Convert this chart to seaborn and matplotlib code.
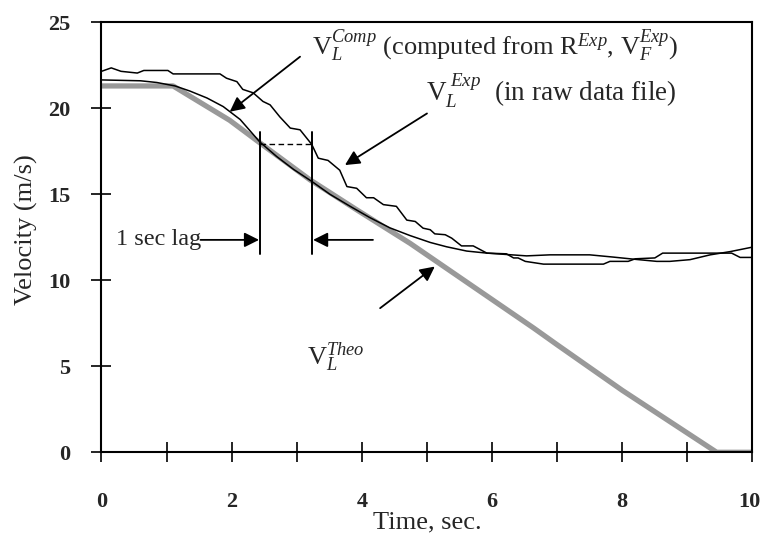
import matplotlib
matplotlib.use("Agg")
import matplotlib.pyplot as plt
import matplotlib.transforms as mtransforms
import seaborn as sns
import pandas as pd
from matplotlib.ticker import MultipleLocator

# ---- data ----
exp_t = [0.0, 0.15, 0.3, 0.55, 0.65, 1.02, 1.1, 1.82, 1.92, 2.08, 2.17, 2.33, 2.48, 2.59,
         2.74, 2.9, 3.05, 3.23, 3.33, 3.48, 3.66, 3.77, 3.92, 4.07, 4.18, 4.33, 4.53, 4.69,
         4.82, 4.94, 5.05, 5.12, 5.28, 5.38, 5.53, 5.71, 5.92, 6.22, 6.33, 6.4, 6.51, 6.79,
         7.71, 7.81, 8.09, 8.2, 8.5, 8.62, 9.68, 9.81, 10.0]
exp_v = [22.15, 22.35, 22.15, 22.05, 22.2, 22.2, 22.0, 22.0, 21.75, 21.55, 21.1, 20.9, 20.4, 20.2,
         19.5, 18.85, 18.75, 17.9, 17.1, 16.97, 16.4, 15.45, 15.35, 14.8, 14.8, 14.4, 14.3, 13.5,
         13.42, 13.03, 12.94, 12.7, 12.65, 12.45, 12.0, 12.0, 11.58, 11.54, 11.3, 11.3, 11.1, 10.94,
         10.94, 11.1, 11.1, 11.25, 11.3, 11.58, 11.58, 11.33, 11.33]

comp_t = [0.0, 0.6, 0.85, 1.13, 1.36, 1.62, 1.87, 2.13, 2.43, 2.69, 2.95, 3.23, 3.51, 3.82,
          4.12, 4.43, 4.74, 5.05, 5.3, 5.61, 5.92, 6.53, 6.89, 7.5, 7.86, 8.17, 8.53, 8.73,
          9.04, 9.35, 9.66, 10.0]
comp_v = [21.65, 21.6, 21.5, 21.3, 21.0, 20.6, 20.1, 19.35, 18.05, 17.2, 16.45, 15.75, 15.0, 14.3,
          13.65, 13.05, 12.6, 12.2, 11.95, 11.7, 11.58, 11.42, 11.48, 11.48, 11.35, 11.23, 11.1, 11.1,
          11.2, 11.48, 11.67, 11.93]

theo_t = [0.0, 1.1, 1.36, 1.97, 2.43, 3.2, 3.92, 4.74, 6.64, 7.0, 8.0, 9.45, 10.0]
theo_v = [21.3, 21.3, 20.7, 19.3, 18.0, 15.85, 14.1, 12.15, 7.22, 6.25, 3.6, 0.0, 0.0]

x_ticks = [0, 2, 4, 6, 8, 10]
y_ticks = [0, 5, 10, 15, 20, 25]

# ---- style ----
sns.set_theme(style="white")
plt.rcParams["font.family"] = ["Liberation Serif", "DejaVu Serif"]
plt.rcParams["mathtext.fontset"] = "custom"
plt.rcParams["mathtext.rm"] = "Liberation Serif"
plt.rcParams["mathtext.it"] = "Liberation Serif:italic"
plt.rcParams["mathtext.bf"] = "Liberation Serif:bold"

fig = plt.figure(figsize=(7.62, 5.35), dpi=100)
ax = fig.add_axes([0.1332, 0.1546, 0.8543, 0.8037])

df_theo = pd.DataFrame({"t": theo_t, "v": theo_v})
df_comp = pd.DataFrame({"t": comp_t, "v": comp_v})
df_exp = pd.DataFrame({"t": exp_t, "v": exp_v})

sns.lineplot(data=df_theo, x="t", y="v", ax=ax, color="#999999", lw=3.8, sort=False,
             solid_capstyle="butt", zorder=2)
sns.lineplot(data=df_comp, x="t", y="v", ax=ax, color="black", lw=1.1, sort=False, zorder=3)
sns.lineplot(data=df_exp, x="t", y="v", ax=ax, color="black", lw=1.1, sort=False, zorder=3)

ax.set_xlim(0, 10)
ax.set_ylim(0, 25)
ax.set_xticks(x_ticks)
ax.set_yticks(y_ticks)
ax.xaxis.set_minor_locator(MultipleLocator(1))
ax.tick_params(axis="x", which="both", direction="inout", length=15, width=1.2,
               color="black", bottom=True, top=False, pad=21)
ax.tick_params(axis="y", which="major", direction="inout", length=15, width=1.2,
               color="black", left=True, right=False, pad=15)
for lab in ax.get_xticklabels() + ax.get_yticklabels():
    lab.set_fontweight("bold")
    lab.set_fontsize(16)
# keep the last x label inside the canvas
last = ax.get_xticklabels()[-1]
last.set_transform(last.get_transform() +
                   mtransforms.ScaledTranslation(-3 / 100, 0, fig.dpi_scale_trans))

for s in ax.spines.values():
    s.set_color("black")
    s.set_linewidth(1.5)

ax.set_xlabel("Time, sec.", fontsize=19, labelpad=0)
ax.set_ylabel("Velocity (m/s)", fontsize=19)
ax.yaxis.set_label_coords(-0.097, 0.517)

# ---- annotations ----
# lag markers
ax.plot([2.43, 2.43], [11.5, 18.6], color="black", lw=1.4)
ax.plot([3.24, 3.24], [11.5, 18.6], color="black", lw=1.4)
ax.plot([2.43, 3.24], [17.94, 17.94], color="black", lw=1.0, ls=(0, (4, 2.5)))

arrow = dict(arrowstyle="-|>", color="black", lw=1.3, mutation_scale=22,
             shrinkA=0, shrinkB=0)
ax.text(0.23, 12.35, "1 sec lag", fontsize=17.5, va="center", ha="left")
ax.annotate("", xy=(2.42, 12.35), xytext=(1.52, 12.35), arrowprops=arrow)
ax.annotate("", xy=(3.25, 12.35), xytext=(4.17, 12.35), arrowprops=arrow)

ax.annotate("", xy=(1.97, 19.8), xytext=(3.05, 23.0), arrowprops=arrow)
ax.text(3.23, 23.1, r"V$_L^{Comp}$ (computed from R$^{Exp}$, V$_F^{Exp}$)", fontsize=19,
        ha="left", va="baseline")

ax.annotate("", xy=(3.74, 16.7), xytext=(5.0, 19.7), arrowprops=arrow)
ax.text(4.98, 20.4, r"V$_L^{\,\,Exp}$  (in raw data file)", fontsize=19.5,
        ha="left", va="baseline")

ax.annotate("", xy=(5.12, 10.8), xytext=(4.28, 8.38), arrowprops=arrow)
ax.text(3.15, 5.1, r"V$_L^{Theo}$", fontsize=19, ha="left", va="baseline")

fig.savefig("out.png", dpi=100)
